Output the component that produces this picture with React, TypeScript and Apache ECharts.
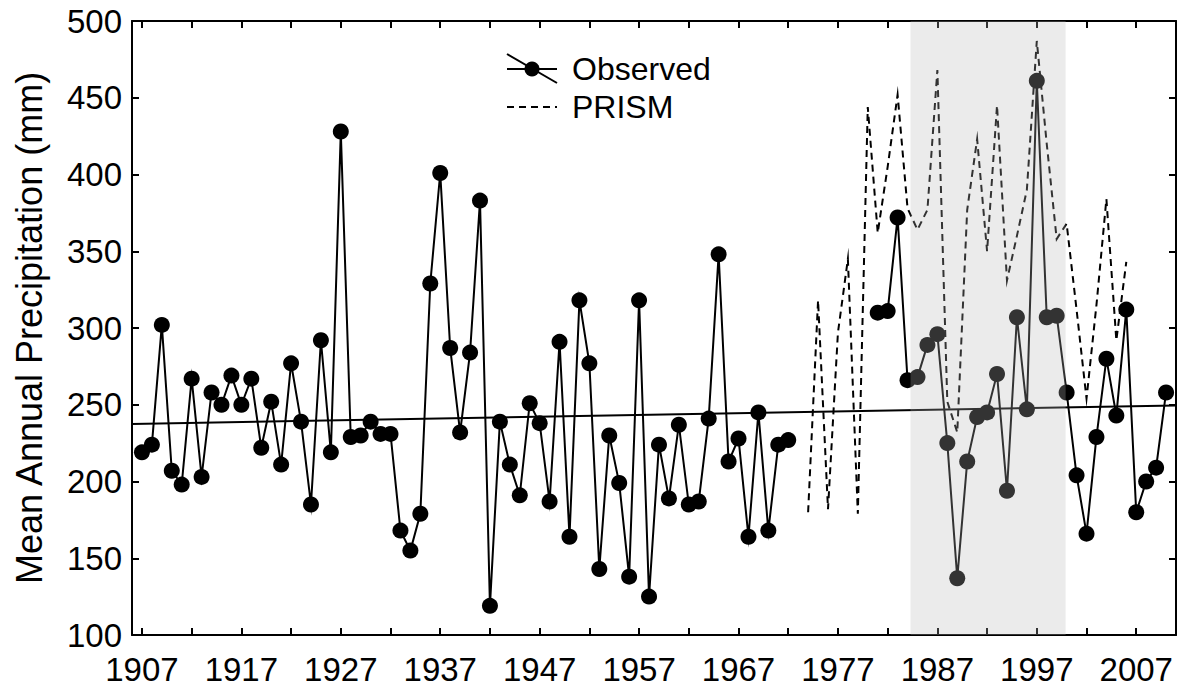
import React, { useEffect, useRef } from "react";
import * as echarts from "echarts";

// Observed mean annual precipitation (mm), 1907–1972
const obsStartA = 1907;
const observedA = [
  219, 224, 302, 207, 198, 267, 203, 258, 250, 269,
  250, 267, 222, 252, 211, 277, 239, 185, 292, 219,
  428, 229, 230, 239, 231, 231, 168, 155, 179, 329,
  401, 287, 232, 284, 383, 119, 239, 211, 191, 251,
  238, 187, 291, 164, 318, 277, 143, 230, 199, 138,
  318, 125, 224, 189, 237, 185, 187, 241, 348, 213,
  228, 164, 245, 168, 224, 227,
];
// Observed, 1981–2010
const obsStartB = 1981;
const observedB = [
  310, 311, 372, 266, 268, 289, 296, 225, 137, 213,
  242, 245, 270, 194, 307, 247, 461, 307, 308, 258,
  204, 166, 229, 280, 243, 312, 180, 200, 209, 258,
];
// PRISM estimates, 1974–2006
const prismStart = 1974;
const prism = [
  180, 318, 182, 297, 345, 179, 444, 362, 405, 452,
  378, 364, 377, 468, 252, 232, 377, 423, 350, 445,
  331, 360, 390, 487, 420, 358, 368, 312, 254, 315,
  384, 292, 343,
];
// Linear trend end points
const trendYears = [1906, 2011];
const trendValues = [237.5, 249.5];
// Shaded period
const bandYears = [1984.3, 1999.9];

const labelYears = [1907, 1917, 1927, 1937, 1947, 1957, 1967, 1977, 1987, 1997, 2007];
const tickYears = [
  1907, 1912, 1917, 1922, 1927, 1932, 1937, 1942, 1947, 1952, 1957, 1962,
  1967, 1972, 1977, 1982, 1987, 1992, 1997, 2002, 2007,
];

const FONT = "'Liberation Sans', Arial, Helvetica, sans-serif";

export default function App() {
  const ref = useRef<HTMLDivElement>(null);
  useEffect(() => {
    if (!ref.current) return;
    const chart = echarts.init(ref.current, null, { renderer: "svg" });

    const obsData: any[] = [];
    observedA.forEach((v, i) => obsData.push([obsStartA + i, v]));
    obsData.push([1976, null]);
    observedB.forEach((v, i) => obsData.push([obsStartB + i, v]));
    const prismData = prism.map((v, i) => [prismStart + i, v]);
    const trendData = trendYears.map((y, i) => [y, trendValues[i]]);

    const axisLineStyle = { color: "#000", width: 2 };
    const option: any = {
      animation: false,
      backgroundColor: "#fff",
      textStyle: { fontFamily: FONT, color: "#000" },
      grid: { left: 132, right: 1, top: 21, bottom: 53, containLabel: false },
      xAxis: [
        {
          type: "value",
          min: 1906,
          max: 2011,
          position: "bottom",
          axisLine: { show: true, onZero: false, lineStyle: axisLineStyle },
          axisTick: {
            show: true,
            inside: true,
            length: 7,
            lineStyle: axisLineStyle,
            customValues: tickYears,
          },
          axisLabel: {
            customValues: labelYears,
            fontSize: 33,
            color: "#000",
            fontFamily: FONT,
            margin: 18,
            formatter: (v: number) => String(v),
          },
          splitLine: { show: false },
        },
        {
          type: "value",
          min: 1906,
          max: 2011,
          position: "top",
          axisLine: { show: true, onZero: false, lineStyle: axisLineStyle },
          axisTick: {
            show: true,
            inside: true,
            length: 7,
            lineStyle: axisLineStyle,
            customValues: tickYears,
          },
          axisLabel: { show: false },
          splitLine: { show: false },
        },
      ],
      yAxis: [
        {
          type: "value",
          min: 100,
          max: 500,
          interval: 50,
          position: "left",
          name: "Mean Annual Precipitation (mm)",
          nameLocation: "middle",
          nameGap: 85,
          nameTextStyle: { fontSize: 36, color: "#000", fontFamily: FONT },
          axisLine: { show: true, onZero: false, lineStyle: axisLineStyle },
          axisTick: { show: true, inside: true, length: 7, lineStyle: axisLineStyle },
          axisLabel: { fontSize: 33, color: "#000", fontFamily: FONT, margin: 10 },
          splitLine: { show: false },
        },
        {
          type: "value",
          min: 100,
          max: 500,
          interval: 50,
          position: "right",
          axisLine: { show: true, onZero: false, lineStyle: axisLineStyle },
          axisTick: { show: true, inside: true, length: 7, lineStyle: axisLineStyle },
          axisLabel: { show: false },
          splitLine: { show: false },
        },
      ],
      graphic: [
        {
          type: "line",
          shape: { x1: 507, y1: 69, x2: 557, y2: 69 },
          style: { stroke: "#000", lineWidth: 2 },
        },
        {
          type: "line",
          shape: { x1: 507, y1: 54, x2: 557, y2: 83 },
          style: { stroke: "#000", lineWidth: 2 },
        },
        { type: "circle", shape: { cx: 532, cy: 69, r: 7.5 }, style: { fill: "#000" } },
        {
          type: "text",
          x: 572,
          y: 69,
          style: { text: "Observed", fontSize: 32, fontFamily: FONT, fill: "#000", verticalAlign: "middle" },
        },
        {
          type: "line",
          shape: { x1: 507, y1: 107, x2: 557, y2: 107 },
          style: { stroke: "#000", lineWidth: 2, lineDash: [7, 5] },
        },
        {
          type: "text",
          x: 572,
          y: 107,
          style: { text: "PRISM", fontSize: 32, fontFamily: FONT, fill: "#000", verticalAlign: "middle" },
        },
      ],
      series: [
        {
          name: "Trend",
          type: "line",
          data: trendData,
          symbol: "none",
          lineStyle: { color: "#000", width: 2 },
          z: 2,
          silent: true,
        },
        {
          name: "PRISM",
          type: "line",
          data: prismData,
          symbol: "none",
          lineStyle: { color: "#000", width: 2, type: [7, 5], join: "miter", miterLimit: 12 },
          z: 3,
          silent: true,
        },
        {
          name: "Observed",
          type: "line",
          data: obsData,
          connectNulls: false,
          symbol: "circle",
          symbolSize: 16,
          itemStyle: { color: "#000" },
          lineStyle: { color: "#000", width: 2, join: "miter", miterLimit: 12 },
          z: 4,
          silent: true,
        },
        {
          name: "Band",
          type: "line",
          data: [],
          silent: true,
          z: 10,
          markArea: {
            silent: true,
            z: 10,
            itemStyle: { color: "rgba(183,183,183,0.28)" },
            data: [[{ xAxis: bandYears[0] }, { xAxis: bandYears[1] }]],
          },
        },
      ],
    };
    chart.setOption(option);
    return () => chart.dispose();
  }, []);
  return (
    <div
      ref={ref}
      style={{ position: "fixed", left: 0, top: 0, width: 1177, height: 688, background: "#fff" }}
    />
  );
}
